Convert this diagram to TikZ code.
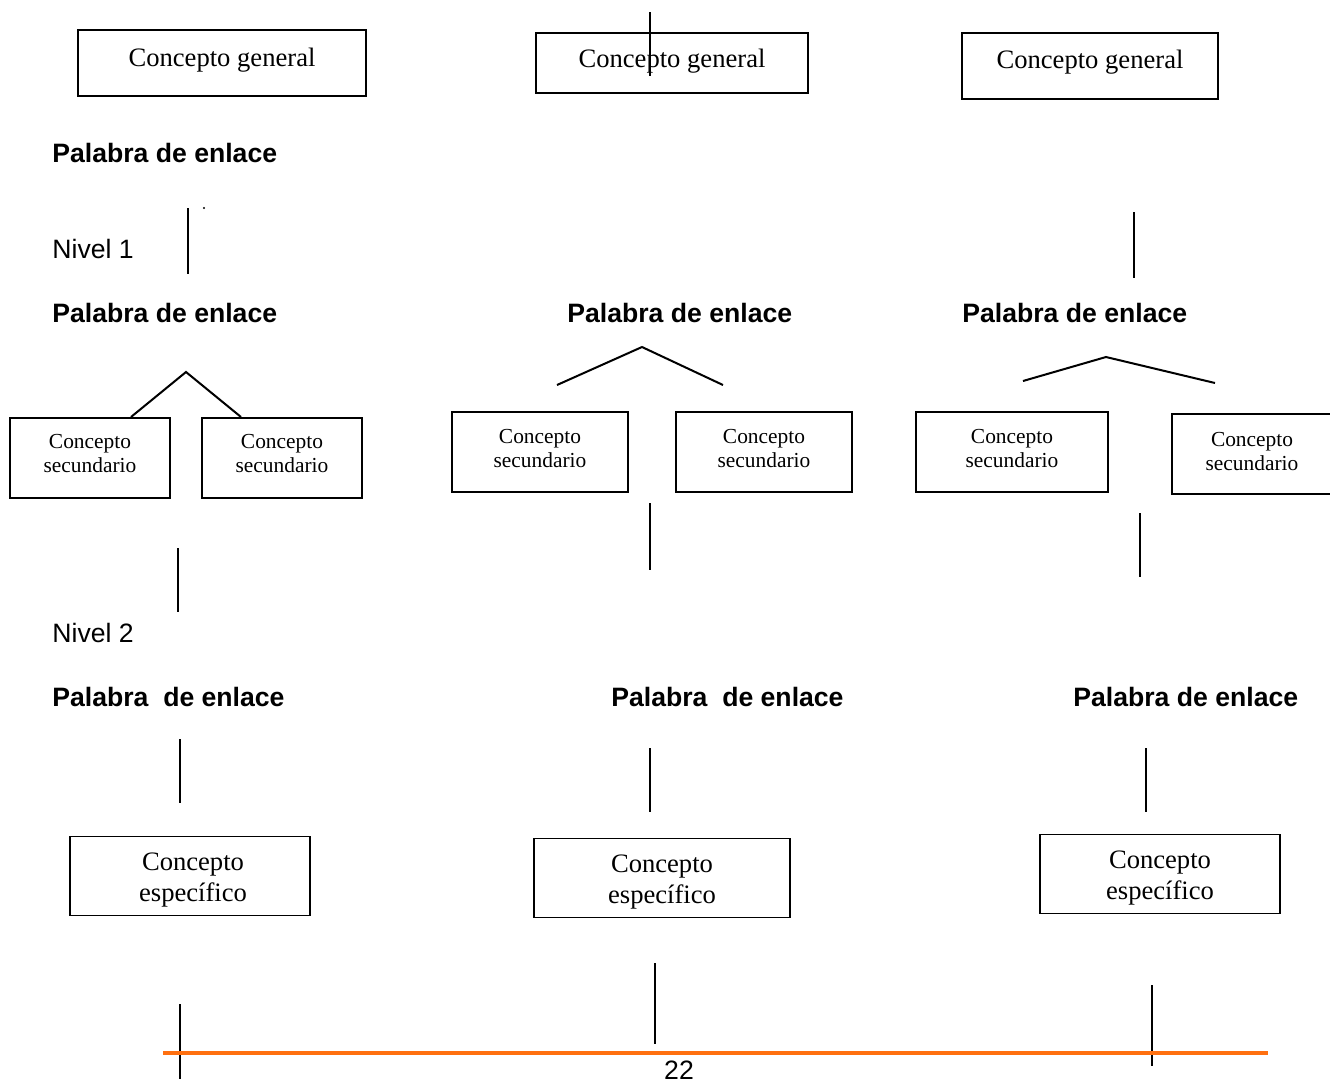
\documentclass[tikz,border=0pt]{standalone}
\usepackage{fontspec}
\setmainfont{Liberation Serif}
\setsansfont{Liberation Sans}
\definecolor{pageorange}{RGB}{255,112,16}
\begin{document}
\begin{tikzpicture}[x=0.5pt,y=-0.5pt,
  boxg/.style={draw,line width=1pt,inner sep=0pt},
  boxs/.style={draw,line width=0.9pt,inner sep=0pt},
  gen/.style={inner sep=0pt,font=\fontsize{13.3}{16}\selectfont},
  sec/.style={inner sep=0pt,align=center,font=\fontsize{10.7}{12}\selectfont},
  esp/.style={inner sep=0pt,align=center,font=\fontsize{13.3}{15.5}\selectfont},
  link/.style={anchor=west,inner sep=0pt,font=\sffamily\bfseries\fontsize{13.3}{16}\selectfont},
  lvl/.style={anchor=west,inner sep=0pt,font=\sffamily\fontsize{13.3}{16}\selectfont},
  conn/.style={line width=1pt}]
\useasboundingbox (0,0) rectangle (1330,1078);
\clip (0,0) rectangle (1330,1078);
% general concepts
\node[boxg,minimum width=144pt,minimum height=33pt] (g1) at (222,63) {};
\node[gen,yshift=1.5pt] (g1t) at (g1) {Concepto general};
\node[boxg,minimum width=136pt,minimum height=30pt] (g2) at (672,63) {};
\node[gen,yshift=0.8pt] (g2t) at (g2) {Concepto general};
\node[boxg,minimum width=128pt,minimum height=33pt] (g3) at (1090,66) {};
\node[gen,yshift=2pt] (g3t) at (g3) {Concepto general};
\coordinate (v0a) at (650,12); \coordinate (v0b) at (650,76);
\draw[conn] (v0a) -- (v0b);
% linking words and levels
\node[link] (p1) at (52,153) {Palabra de enlace};
\coordinate (v1a) at (188,208); \coordinate (v1b) at (188,274);
\draw[conn] (v1a) -- (v1b);
\fill (204,208) circle (0.6pt);
\node[lvl] (n1) at (52,249) {Nivel 1};
\coordinate (v2a) at (1134,212); \coordinate (v2b) at (1134,278);
\draw[conn] (v2a) -- (v2b);
\node[link] (p2) at (52,313) {Palabra de enlace};
\node[link] (p3) at (567,313) {Palabra de enlace};
\node[link] (p4) at (962,313) {Palabra de enlace};
% carets
\coordinate (c1a) at (131,417); \coordinate (c1b) at (186,372); \coordinate (c1c) at (241,417);
\draw[conn] (c1a) -- (c1b) -- (c1c);
\coordinate (c2a) at (557,385); \coordinate (c2b) at (642,347); \coordinate (c2c) at (723,385);
\draw[conn] (c2a) -- (c2b) -- (c2c);
\coordinate (c3a) at (1023,381); \coordinate (c3b) at (1106,357); \coordinate (c3c) at (1215,383);
\draw[conn] (c3a) -- (c3b) -- (c3c);
% secondary concepts
\node[boxs,minimum width=80pt,minimum height=40pt] (s1) at (90,458) {};
\node[sec,yshift=2pt] (s1t) at (s1) {Concepto\\secundario};
\node[boxs,minimum width=80pt,minimum height=40pt] (s2) at (282,458) {};
\node[sec,yshift=2pt] (s2t) at (s2) {Concepto\\secundario};
\node[boxs,minimum width=88pt,minimum height=40pt] (s3) at (540,452) {};
\node[sec,yshift=1.5pt] (s3t) at (s3) {Concepto\\secundario};
\node[boxs,minimum width=88pt,minimum height=40pt] (s4) at (764,452) {};
\node[sec,yshift=1.5pt] (s4t) at (s4) {Concepto\\secundario};
\node[boxs,minimum width=96pt,minimum height=40pt] (s5) at (1012,452) {};
\node[sec,yshift=1.5pt] (s5t) at (s5) {Concepto\\secundario};
\node[boxs,minimum width=80pt,minimum height=40pt] (s6) at (1252,454) {};
\node[sec,yshift=1pt] (s6t) at (s6) {Concepto\\secundario};
% level 2
\coordinate (v3a) at (178,548); \coordinate (v3b) at (178,612);
\draw[conn] (v3a) -- (v3b);
\coordinate (v4a) at (650,503); \coordinate (v4b) at (650,570);
\draw[conn] (v4a) -- (v4b);
\coordinate (v5a) at (1140,513); \coordinate (v5b) at (1140,577);
\draw[conn] (v5a) -- (v5b);
\node[lvl] (n2) at (52,633) {Nivel 2};
\node[link] (p5) at (52,697) {Palabra\ \ de enlace};
\node[link] (p6) at (611,697) {Palabra\ \ de enlace};
\node[link] (p7) at (1073,697) {Palabra de enlace};
\coordinate (v6a) at (180,739); \coordinate (v6b) at (180,803);
\draw[conn] (v6a) -- (v6b);
\coordinate (v7a) at (650,748); \coordinate (v7b) at (650,812);
\draw[conn] (v7a) -- (v7b);
\coordinate (v8a) at (1146,748); \coordinate (v8b) at (1146,812);
\draw[conn] (v8a) -- (v8b);
% specific concepts
\node[boxs,minimum width=120pt,minimum height=39.5pt] (e1) at (190,876) {};
\node[esp,yshift=-2pt,xshift=1.5pt] (e1t) at (e1) {Concepto\\específico};
\node[boxs,minimum width=128pt,minimum height=39.5pt] (e2) at (662,878) {};
\node[esp,yshift=-2pt] (e2t) at (e2) {Concepto\\específico};
\node[boxs,minimum width=120pt,minimum height=39.5pt] (e3) at (1160,874) {};
\node[esp,yshift=-2pt] (e3t) at (e3) {Concepto\\específico};
% bottom lines
\coordinate (v9a) at (180,1004); \coordinate (v9b) at (180,1080);
\draw[line width=0.7pt] (v9a) -- (v9b);
\coordinate (v10a) at (655,963); \coordinate (v10b) at (655,1044);
\draw[line width=0.7pt] (v10a) -- (v10b);
\coordinate (v11a) at (1152,985); \coordinate (v11b) at (1152,1066);
\draw[line width=0.7pt] (v11a) -- (v11b);
% page footer
\coordinate (fa) at (163,1053); \coordinate (fb) at (1268,1053);
\draw[pageorange,line width=1.6pt] (fa) -- (fb);
\node[anchor=north,inner sep=0pt,font=\sffamily\fontsize{13.3}{16}\selectfont] (pg) at (679,1061) {22};
\end{tikzpicture}
\end{document}
